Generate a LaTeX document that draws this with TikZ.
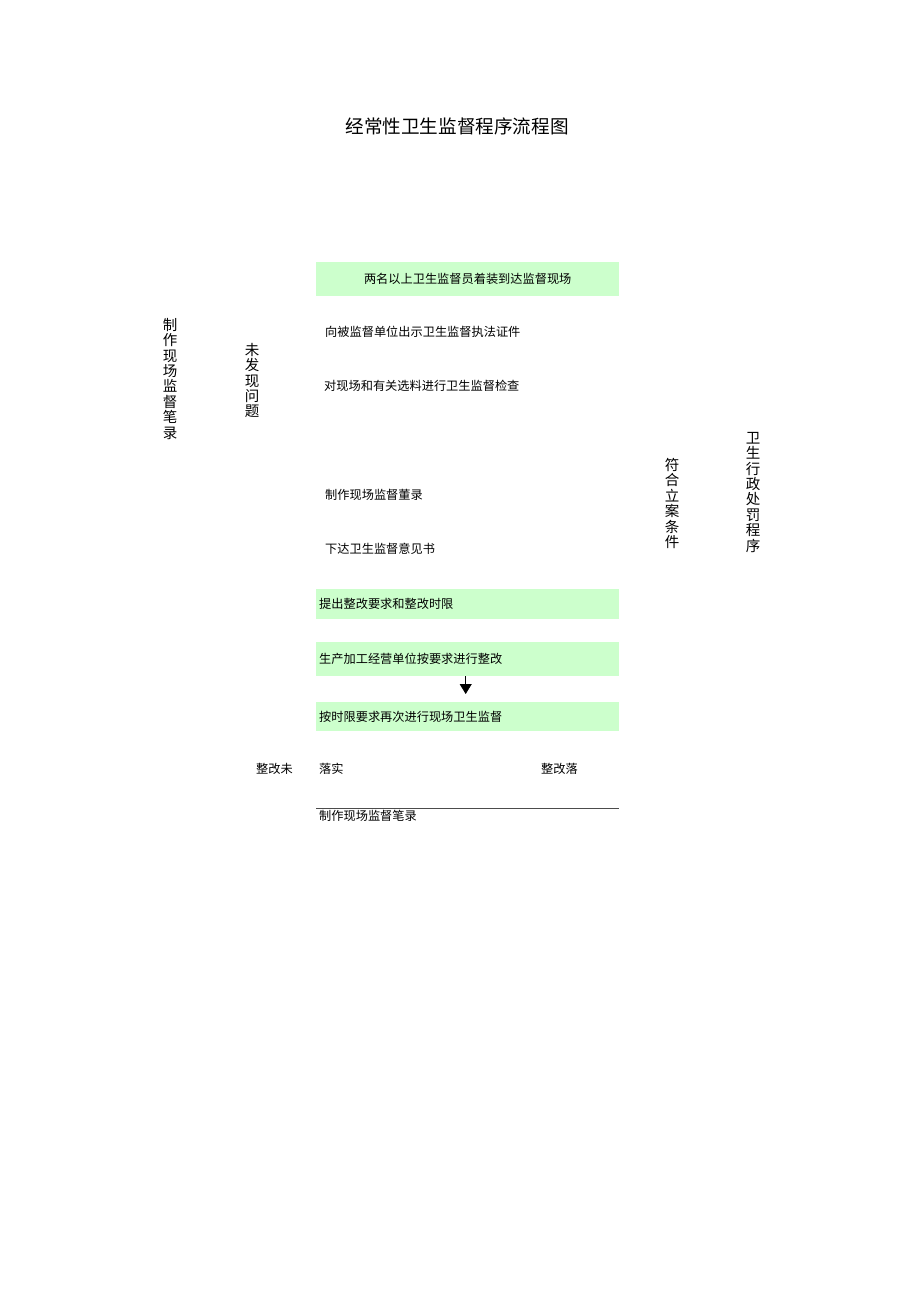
\documentclass[tikz,border=0pt]{standalone}
\usepackage{fontspec}
\setmainfont{Noto Sans CJK SC}
\usepackage{tikz}
\usetikzlibrary{arrows.meta}
\definecolor{boxgreen}{RGB}{204,255,204}

\begin{document}
\begin{tikzpicture}[x=1pt,y=-1pt]
\useasboundingbox (0,0) rectangle (920,1301);

\node (title) at (457,126) {\fontsize{18.6}{21}\selectfont 经常性卫生监督程序流程图};

\begin{scope}[every node/.style={fill=boxgreen,anchor=north west,minimum width=303pt,
              text width=297pt,inner xsep=3pt,inner ysep=0pt,align=left,
              font=\fontsize{12.2}{14}\selectfont}]
  \node[minimum height=34pt,align=center] (arrive) at (316,262) {两名以上卫生监督员着装到达监督现场};
  \node[minimum height=30pt] (demand) at (316,589) {提出整改要求和整改时限};
  \node[minimum height=34pt] (rectify) at (316,642) {生产加工经营单位按要求进行整改};
  \node[minimum height=29pt] (recheck) at (316,702) {按时限要求再次进行现场卫生监督};
\end{scope}

\begin{scope}[every node/.style={anchor=west,inner sep=0pt,font=\fontsize{12.2}{14}\selectfont}]
  \node (show) at (325,332) {向被监督单位出示卫生监督执法证件};
  \node (inspect) at (324,386) {对现场和有关选料进行卫生监督检查};
  \node (record) at (325,495) {制作现场监督董录};
  \node (opinion) at (325,549) {下达卫生监督意见书};
  \node (notdone) at (256,769) {整改未};
  \node (done1) at (319,769) {落实};
  \node (done2) at (541,769) {整改落};
  \node (record2) at (319,816) {制作现场监督笔录};
\end{scope}

\begin{scope}[every node/.style={anchor=north,inner sep=0pt,align=center,
              font=\fontsize{14.5}{15.4}\selectfont}]
  \node (recordv) at (170,318) {制\\作\\现\\场\\监\\督\\笔\\录};
  \node (noproblem) at (252,343) {未\\发\\现\\问\\题};
  \node (filecase) at (672,458) {符\\合\\立\\案\\条\\件};
  \node (penalty) at (753,432) {卫\\生\\行\\政\\处\\罚\\程\\序};
\end{scope}

\draw[-{Triangle[width=12pt,length=10pt]},thick] ([xshift=-2pt]rectify.south) -- ([xshift=-2pt,yshift=8pt]recheck.north);

\coordinate (lineA) at (316,808);
\coordinate (lineB) at (619,808);
\draw[gray!60!black] (lineA) -- (lineB);

\end{tikzpicture}
\end{document}
